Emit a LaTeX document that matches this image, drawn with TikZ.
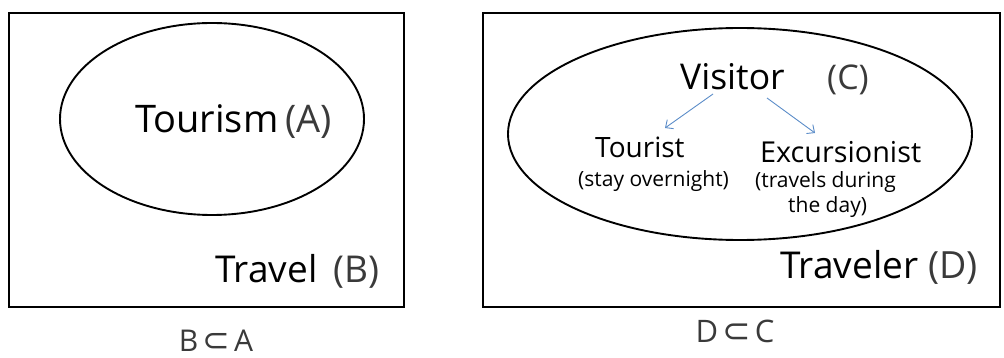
\documentclass[tikz,border=0pt]{standalone}
\usepackage{fontspec}
\setmainfont{Open Sans}
\newfontfamily\symfont{DejaVu Sans}
\usetikzlibrary{shapes.geometric,arrows.meta}
\definecolor{lab}{HTML}{3A3A3A}
\definecolor{arrblue}{HTML}{5B8CC8}
\tikzset{
  frame/.style={draw, line width=2.8pt, rectangle, inner sep=0pt},
  oval/.style={draw, line width=1.9pt, ellipse, inner sep=0pt},
  word/.style={anchor=base west, inner sep=0pt, text=black},
  tag/.style={anchor=base west, inner sep=0pt, text=lab},
  arr/.style={draw=arrblue, line width=0.9pt, -{Straight Barb[length=6pt,width=11pt]}}
}
\begin{document}
\begin{tikzpicture}[x=1pt,y=-1pt]
\useasboundingbox (0,0) rectangle (1004,358);
% left panel
\node[frame, minimum width=395pt, minimum height=294pt] (travelbox) at (206.5,160) {};
\node[oval, minimum width=304pt, minimum height=192pt] (tourismoval) at (212,119) {};
\node[word, font=\fontsize{38}{40}\selectfont] (tourism) at (135,133) {Tourism};
\node[tag, font=\fontsize{38}{40}\selectfont] (A) at (285,133) {(A)};
\node[word, font=\fontsize{37}{40}\selectfont] (travel) at (215,282) {Travel};
\node[tag, font=\fontsize{37}{40}\selectfont] (B) at (333,282) {(B)};
\node[tag, font=\fontsize{30}{32}\selectfont, anchor=base] (BA) at (216,351) {B\hspace{4pt}{\symfont\fontsize{33}{33}\selectfont ⊂}\hspace{4pt}A};
% right panel
\node[frame, minimum width=517pt, minimum height=294pt] (travelerbox) at (741.5,160) {};
\node[oval, minimum width=464pt, minimum height=212pt] (visitoroval) at (740,134) {};
\node[word, font=\fontsize{35.5}{36}\selectfont] (visitor) at (680,90) {Visitor};
\node[tag, font=\fontsize{34}{36}\selectfont] (C) at (827,90) {(C)};
\node[word, font=\fontsize{28}{30}\selectfont] (tourist) at (595,158) {Tourist};
\node[word, font=\fontsize{21}{22}\selectfont] (stay) at (578,187) {(stay overnight)};
\node[word, font=\fontsize{28.8}{30}\selectfont] (excursionist) at (760,163) {Excursionist};
\node[word, font=\fontsize{21}{22}\selectfont] (travels) at (755,188) {(travels during};
\node[word, font=\fontsize{21}{22}\selectfont] (theday) at (788,213) {the day)};
\node[word, font=\fontsize{37}{40}\selectfont] (traveler) at (780,278) {Traveler};
\node[tag, font=\fontsize{37.5}{40}\selectfont] (D) at (928,278) {(D)};
\node[tag, font=\fontsize{31}{32}\selectfont, anchor=base] (DC) at (735,342) {D\hspace{4pt}{\symfont\fontsize{34}{34}\selectfont ⊂}\hspace{4pt}C};
\coordinate (v1) at (713,94);
\coordinate (t1) at (665,128);
\coordinate (v2) at (767,98);
\coordinate (e1) at (815,133);
\draw[arr] (v1) -- (t1);
\draw[arr] (v2) -- (e1);
\end{tikzpicture}
\end{document}
